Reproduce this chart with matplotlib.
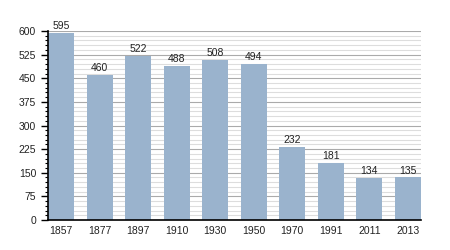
import matplotlib
matplotlib.use("Agg")
import matplotlib.pyplot as plt
from matplotlib.ticker import MultipleLocator

years = ["1857", "1877", "1897", "1910", "1930", "1950", "1970", "1991", "2011", "2013"]
population = [595, 460, 522, 488, 508, 494, 232, 181, 134, 135]

BAR_COLOR = "#9ab3cd"
W, H = 450, 250

plt.rcParams["font.family"] = ["Liberation Sans", "DejaVu Sans"]

fig = plt.figure(figsize=(W / 100, H / 100), dpi=100)
ax = fig.add_axes([48 / W, 1 - 220 / H, (421 - 48) / W, (220 - 31) / H])

width = 0.68
xs = range(len(years))
ax.bar(xs, population, width=width, color=BAR_COLOR, zorder=2)
for x, v in zip(xs, population):
    ax.text(x, v + 6, str(v), ha="center", va="bottom", fontsize=7.5, color="#222222")

ax.set_xlim(-width / 2, len(years) - 1 + width / 2)
ax.set_ylim(0, 600)
ax.set_xticks(list(xs))
ax.set_xticklabels(years)
ax.yaxis.set_major_locator(MultipleLocator(75))
ax.yaxis.set_minor_locator(MultipleLocator(15))

ax.grid(axis="y", which="major", color="#aaaaaa", linewidth=0.8, zorder=0)
ax.grid(axis="y", which="minor", color="#dddddd", linewidth=0.8, zorder=0)
ax.set_axisbelow(True)

for s in ["top", "right"]:
    ax.spines[s].set_visible(False)
for s in ["left", "bottom"]:
    ax.spines[s].set_linewidth(1.2)
    ax.spines[s].set_zorder(5)

ax.tick_params(axis="x", length=0, labelsize=7.5, pad=4, labelcolor="#222222")
ax.tick_params(axis="y", which="major", length=5, width=1, labelsize=7.5, labelcolor="#222222")
ax.tick_params(axis="y", which="minor", length=2.5, width=0.8)

fig.savefig("out.png", dpi=100)
